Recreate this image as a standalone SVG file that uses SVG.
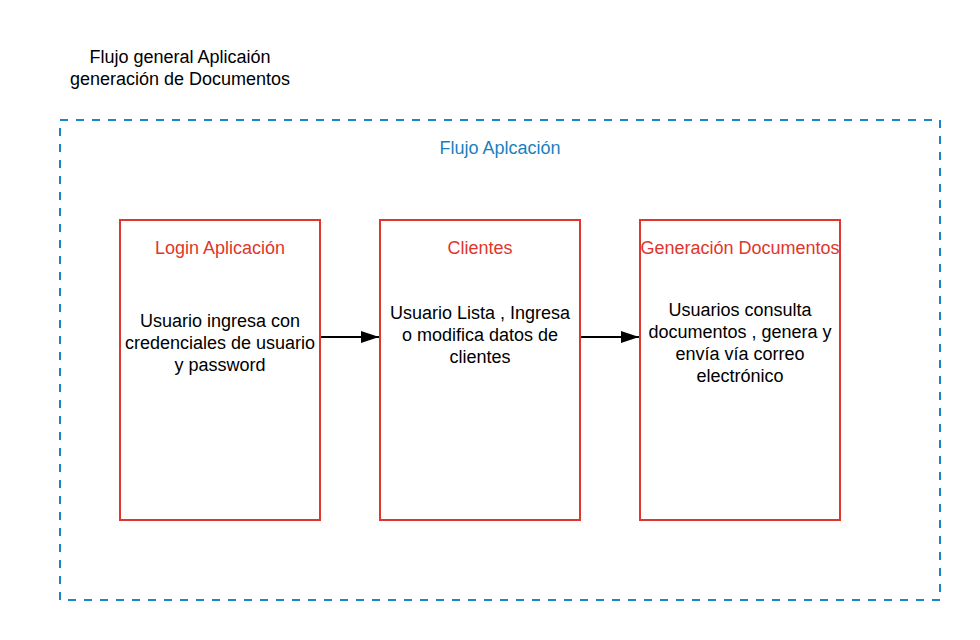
<svg xmlns="http://www.w3.org/2000/svg" width="980" height="640" viewBox="0 0 980 640">
<style>
text{font-family:"Liberation Sans",Arial,sans-serif;font-size:18px;text-anchor:middle}
.t{fill:#000}
.r{fill:#e0362c}
.b{fill:#1a7fbf}
.box{fill:#fff;stroke:#e0362c;stroke-width:2}
.cont{fill:none;stroke:#1a85c2;stroke-width:2;stroke-dasharray:8 8}
.conn{stroke:#000;stroke-width:2;fill:none}
</style>
<defs>
<marker id="ah2" viewBox="0 0 18 12" refX="18" refY="6" markerWidth="18" markerHeight="12" orient="auto" markerUnits="userSpaceOnUse">
<path d="M0,0 L18,6 L0,12 z" fill="#000"/>
</marker>
</defs>
<rect width="980" height="640" fill="#fff"/>
<g id="title">
<text class="t" x="180" y="63">Flujo general Aplicaión</text>
<text class="t" x="180" y="85">generación de Documentos</text>
</g>
<g id="container">
<rect class="cont" x="60" y="120" width="880" height="480"/>
<text class="b" x="500" y="154">Flujo Aplcación</text>
</g>
<g id="login">
<rect class="box" x="120" y="220" width="200" height="300"/>
<text class="r" x="220" y="254">Login Aplicación</text>
<text class="t" x="220" y="327">Usuario ingresa con</text>
<text class="t" x="220" y="349">credenciales de usuario</text>
<text class="t" x="220" y="371">y password</text>
</g>
<g id="clientes">
<rect class="box" x="380" y="220" width="200" height="300"/>
<text class="r" x="480" y="254">Clientes</text>
<text class="t" x="480" y="319">Usuario Lista , Ingresa</text>
<text class="t" x="480" y="341">o modifica datos de</text>
<text class="t" x="480" y="363">clientes</text>
</g>
<g id="generacion">
<rect class="box" x="640" y="220" width="200" height="300"/>
<text class="r" x="740" y="254">Generación Documentos</text>
<text class="t" x="740" y="316">Usuarios consulta</text>
<text class="t" x="740" y="338">documentos , genera y</text>
<text class="t" x="740" y="360">envía vía correo</text>
<text class="t" x="740" y="382">electrónico</text>
</g>
<g id="connectors">
<line class="conn" x1="321" y1="337" x2="379" y2="337" marker-end="url(#ah2)"/>
<line class="conn" x1="581" y1="337" x2="639" y2="337" marker-end="url(#ah2)"/>
</g>
</svg>
